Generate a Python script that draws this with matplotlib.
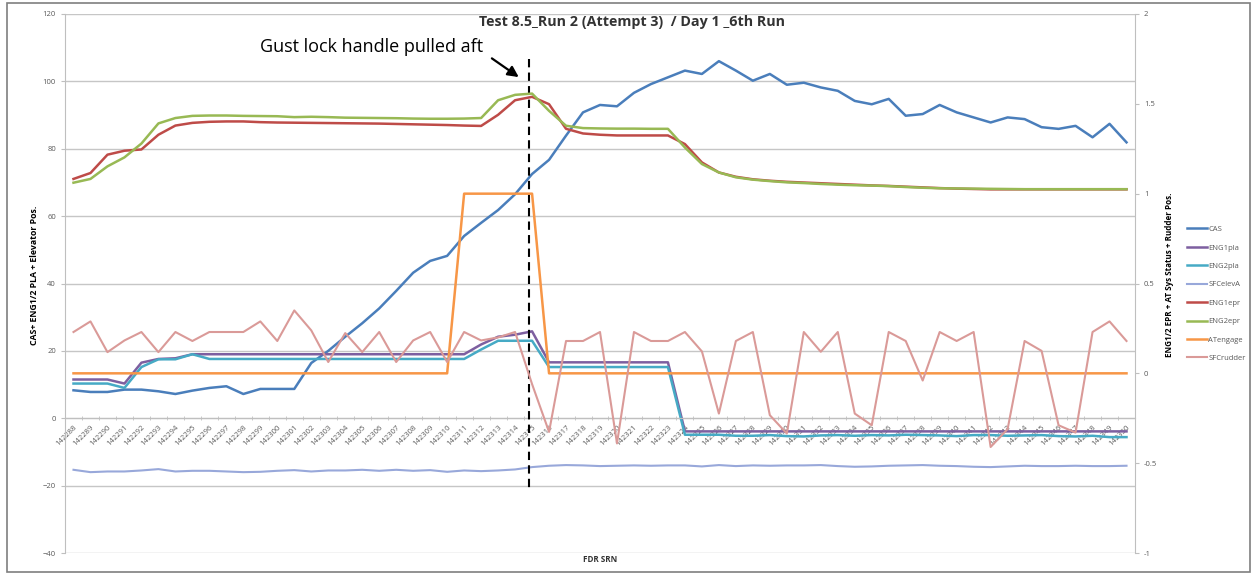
import numpy as np
import matplotlib.pyplot as plt
from matplotlib.patches import Rectangle

plt.rcParams['font.family'] = ['Open Sans', 'DejaVu Sans']

# FDR sample record numbers
srn = [str(n) for n in range(142288, 142351)]

# primary axis: CAS, PLA and elevator position
cas = [8.3, 7.8, 7.8, 8.5, 8.5, 8.0, 7.2, 8.2, 9.0, 9.5, 7.2, 8.7, 8.7, 8.7, 16.4,
       20.0, 24.2, 28.2, 32.6, 37.8, 43.2, 46.7, 48.2, 54.1, 58.0, 61.8, 66.5,
       72.5, 76.7, 83.9, 90.8, 93.0, 92.6, 96.6, 99.2, 101.2, 103.2, 102.2, 106.0,
       103.2, 100.2, 102.2, 99.0, 99.6, 98.2, 97.2, 94.2, 93.2, 94.8, 89.8, 90.3,
       93.0, 90.8, 89.3, 87.8, 89.3, 88.8, 86.4, 85.9, 86.8, 83.4, 87.4, 81.9]
eng1_pla = ([11.5, 11.5, 11.5, 10.3, 16.5, 17.6, 17.8] + [19.0] * 17 +
            [21.9, 24.2, 24.8, 25.8] + [16.6] * 8 + [-3.9] * 27)
eng2_pla = ([10.3, 10.3, 10.3, 9.0, 15.2, 17.5, 17.5, 19.0] + [17.6] * 16 +
            [20.4, 23.0, 23.0, 23.0] + [15.2] * 8 +
            [-4.9, -4.9, -4.9, -5.2, -5.2, -5.0, -5.3, -5.4, -5.1, -5.0, -5.2,
             -5.0, -5.1, -4.9, -5.0, -5.1, -5.3, -5.0, -5.0, -5.2, -5.1, -5.0,
             -5.3, -5.4, -5.2, -5.6, -5.6])
sfc_elev = [-15.3, -16.0, -15.8, -15.8, -15.5, -15.1, -15.8, -15.6, -15.6, -15.8,
            -16.0, -15.9, -15.6, -15.4, -15.8, -15.5, -15.5, -15.3, -15.6, -15.3,
            -15.6, -15.4, -15.9, -15.5, -15.7, -15.5, -15.2, -14.5, -14.1, -13.9,
            -14.0, -14.2, -14.1, -14.0, -14.1, -14.0, -14.0, -14.3, -13.9, -14.2,
            -14.0, -14.1, -14.0, -14.0, -13.9, -14.2, -14.4, -14.3, -14.1, -14.0,
            -13.9, -14.1, -14.2, -14.4, -14.5, -14.3, -14.1, -14.2, -14.2, -14.1,
            -14.2, -14.2, -14.1]

# secondary axis: EPR, autothrottle status, rudder position
eng1_epr = [1.082, 1.115, 1.217, 1.239, 1.246, 1.328, 1.379, 1.394, 1.400, 1.402,
            1.402, 1.398, 1.396, 1.395, 1.394, 1.393, 1.392, 1.391, 1.390, 1.388,
            1.386, 1.384, 1.382, 1.379, 1.377, 1.439, 1.520, 1.539, 1.498, 1.361,
            1.335, 1.328, 1.324, 1.324, 1.324, 1.324, 1.276, 1.174, 1.118, 1.094,
            1.080, 1.072, 1.066, 1.062, 1.058, 1.054, 1.050, 1.046, 1.043, 1.039,
            1.035, 1.031, 1.028, 1.026, 1.024, 1.024, 1.024, 1.024, 1.024, 1.024,
            1.024, 1.024, 1.024]
eng2_epr = [1.061, 1.082, 1.152, 1.202, 1.279, 1.391, 1.421, 1.433, 1.435, 1.435,
            1.433, 1.432, 1.431, 1.426, 1.428, 1.426, 1.423, 1.422, 1.421, 1.420,
            1.418, 1.417, 1.417, 1.418, 1.421, 1.520, 1.550, 1.557, 1.461, 1.378,
            1.365, 1.363, 1.362, 1.362, 1.361, 1.361, 1.257, 1.165, 1.118, 1.091,
            1.078, 1.070, 1.063, 1.059, 1.054, 1.050, 1.047, 1.045, 1.042, 1.037,
            1.033, 1.030, 1.029, 1.028, 1.027, 1.026, 1.025, 1.025, 1.025, 1.025,
            1.025, 1.025, 1.025]
at_engage = [0] * 23 + [1] * 5 + [0] * 35
sfc_rudder = [0.23, 0.289, 0.118, 0.183, 0.23, 0.118, 0.23, 0.18, 0.23, 0.23,
              0.23, 0.289, 0.18, 0.35, 0.239, 0.063, 0.224, 0.118, 0.23, 0.063,
              0.183, 0.23, 0.063, 0.23, 0.183, 0.20, 0.23, -0.06, -0.326, 0.18,
              0.18, 0.23, -0.39, 0.23, 0.18, 0.18, 0.23, 0.122, -0.224, 0.18,
              0.23, -0.233, -0.335, 0.23, 0.12, 0.23, -0.224, -0.289, 0.23, 0.18,
              -0.04, 0.23, 0.18, 0.23, -0.41, -0.31, 0.18, 0.125, -0.289, -0.33,
              0.23, 0.289, 0.18]

gust_pos = 26.8  # where the gust lock handle was pulled

x = np.arange(len(srn))
grey = '#595959'

fig = plt.figure(figsize=(12.52, 5.75), dpi=100)
ax = fig.add_axes([65 / 1252, 22 / 575, 1070 / 1252, 539 / 575])
ax2 = ax.twinx()

lines = []
lines += ax.plot(x, cas, color='#4A7EBB', lw=1.8, label='CAS')
lines += ax.plot(x, eng1_pla, color='#7D5FA0', lw=1.8, label='ENG1pla')
lines += ax.plot(x, eng2_pla, color='#46AAC5', lw=1.8, label='ENG2pla')
lines += ax.plot(x, sfc_elev, color='#98A8DA', lw=1.5, label='SFCelevA')
lines += ax2.plot(x, eng1_epr, color='#BE4B48', lw=1.8, label='ENG1epr')
lines += ax2.plot(x, eng2_epr, color='#98B954', lw=1.8, label='ENG2epr')
lines += ax2.plot(x, at_engage, color='#F79646', lw=1.8, label='ATengage')
lines += ax2.plot(x, sfc_rudder, color='#DA9A98', lw=1.5, label='SFCrudder')

ax.set_xlim(-0.5, len(srn) - 0.5)
ax.set_ylim(-40, 120)
ax2.set_ylim(-1, 2)
ax.set_yticks(np.arange(-40, 121, 20))
ax2.set_yticks(np.arange(-1, 2.01, 0.5))
ax2.set_yticklabels(['-1', '-0.5', '0', '0.5', '1', '1.5', '2'])

ax.grid(axis='y', color='#c6c6c6', lw=1)
ax.set_axisbelow(True)

# category axis crosses at zero
ax.spines['bottom'].set_position(('data', 0))
ax.set_xticks(x)
ax.set_xticklabels(srn, rotation=45, ha='right', rotation_mode='anchor',
                   fontsize=5.5, color=grey)
ax.set_xticks(x[:-1] + 0.5, minor=True)
ax.tick_params(axis='x', which='major', length=0, pad=4)
ax.tick_params(axis='x', which='minor', length=3, color='#bfbfbf', direction='inout')
ax.tick_params(axis='y', length=3, color='#bfbfbf', labelsize=5.5, labelcolor=grey)
ax2.tick_params(axis='y', length=3, color='#bfbfbf', labelsize=5.5, labelcolor=grey)

for s in ['top', 'right']:
    ax.spines[s].set_visible(False)
for s in ['top', 'bottom', 'left']:
    ax2.spines[s].set_visible(False)
ax.spines['left'].set_color('#bfbfbf')
ax.spines['bottom'].set_color('#bfbfbf')
ax2.spines['right'].set_color('#bfbfbf')

# gust lock marker
ax.plot([gust_pos, gust_pos], [106.7, -21.3], color='black', lw=1.5,
        dashes=(4, 2.5), zorder=5)
ax.annotate('', xy=(26.35, 100.8), xytext=(24.5, 107.3),
            arrowprops=dict(arrowstyle='-|>', color='black', lw=1.6,
                            mutation_scale=16))
fig.text(372 / 1252, 1 - 47 / 575, 'Gust lock handle pulled aft', fontsize=13,
         ha='center', va='center')

fig.text(632 / 1252, 1 - 22 / 575, 'Test 8.5_Run 2 (Attempt 3)  / Day 1 _6th Run',
         fontsize=10.3, fontweight='bold', ha='center', va='center', color='#333333')
fig.text(35 / 1252, 1 - 275 / 575, 'CAS+ ENG1/2 PLA + Elevator Pos.', rotation=90,
         fontsize=6.3, fontweight='bold', ha='center', va='center')
fig.text(1170 / 1252, 1 - 275 / 575, 'ENG1/2 EPR + AT Sys Status + Rudder Pos.',
         rotation=90, fontsize=5.8, fontweight='bold', ha='center', va='center')
fig.text(600 / 1252, 1 - 560 / 575, 'FDR SRN', fontsize=5.8, fontweight='bold',
         ha='center', va='center', color='#333333')

leg = fig.legend(handles=lines, loc='upper left',
                 bbox_to_anchor=(1183 / 1252, 1 - 222 / 575), frameon=False,
                 fontsize=5.5, handlelength=2.6, labelspacing=1.45,
                 handletextpad=0.2, borderpad=0)
for t in leg.get_texts():
    t.set_color(grey)

fig.patches.append(Rectangle((7 / 1252, 3 / 575), 1243 / 1252, 569 / 575,
                             transform=fig.transFigure, fill=False,
                             edgecolor='#7f7f7f', lw=1.2))

fig.savefig('out.png', dpi=100)
